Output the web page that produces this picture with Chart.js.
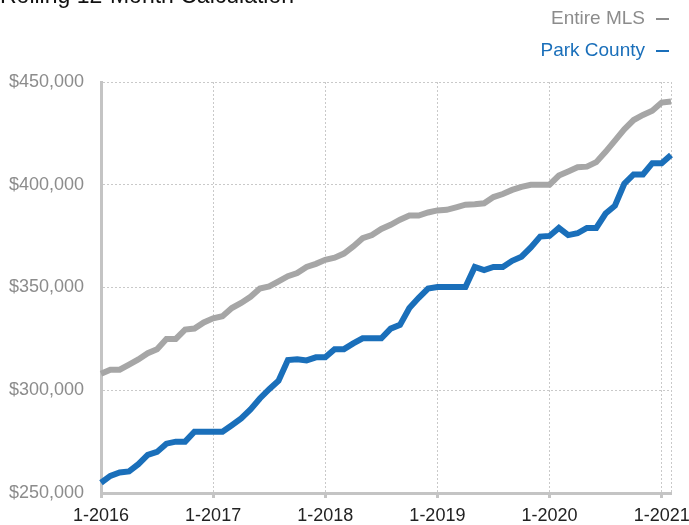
<!DOCTYPE html>
<html>
<head>
<meta charset="utf-8">
<script src="https://cdn.jsdelivr.net/npm/chart.js@4/dist/chart.umd.min.js"></script>
<style>
  body { margin: 0; background: #fff; font-family: "Liberation Sans", Arial, sans-serif; }
  #wrap { position: relative; width: 689px; height: 525px; overflow: hidden; }
  #titulo { position: absolute; left: 0; top: -18px; font-size: 23px; color: #111; white-space: nowrap; }
  .leg { position: absolute; right: 20px; font-size: 19px; white-space: nowrap; }
  .leg span { display: inline-block; width: 13px; height: 2px; margin-left: 11px; vertical-align: middle; }
</style>
</head>
<body>
<div id="wrap">
  <div id="titulo">Rolling 12-Month Calculation</div>
  <div class="leg" style="top:7px;color:#8c8c8c">Entire MLS<span style="background:#8c8c8c"></span></div>
  <div class="leg" style="top:39px;color:#1a6fba">Park County<span style="background:#1a6fba"></span></div>
  <canvas id="grafico"></canvas>
</div>
<script>
  // meses de 1-2016 ate 2-2021
  var anos = [2016, 2017, 2018, 2019, 2020, 2021];
  var meses = [];
  anos.forEach(function(a) {
      for (var m = 1; m <= 12; m++) {
          if (a == 2021 && m > 2) break;
          meses.push(m + '-' + a);
      }
  });

  var entireMLS = [
      308000, 310000, 310000, 312500, 315000, 318000, 320000, 325000, 325000, 329500, 330000, 333000,
      335000, 336000, 340000, 342500, 345500, 349500, 350500, 353000, 355500, 357000, 360000, 361500,
      363500, 364500, 366500, 370000, 374000, 375500, 378500, 380500, 383000, 385000, 385000, 386500,
      387500, 387800, 389000, 390300, 390500, 391000, 394000, 395500, 397500, 399000, 400000, 400000,
      400000, 404500, 406500, 408500, 408800, 411000, 416000, 421500, 427000, 431500, 434000, 436000,
      440000, 440500
  ];
  var parkCounty = [
      255000, 258300, 260000, 260500, 264000, 268500, 270000, 274000, 275000, 275000, 279800, 279800,
      279800, 279800, 283000, 286300, 290700, 296000, 300500, 304600, 314700, 315100, 314500, 316000,
      316000, 320000, 320000, 322800, 325300, 325300, 325300, 330000, 331800, 340000, 345000, 349500,
      350200, 350200, 350200, 350200, 360000, 358500, 360000, 360000, 363000, 365000, 369500, 374800,
      375100, 379000, 375500, 376400, 379000, 379000, 386000, 389800, 400500, 405000, 405000, 410500,
      410500, 414500
  ];
  var yTicks = [250000, 300000, 350000, 400000, 450000];

  var corGrade = '#c9c9c9';
  var corEixo = '#c4c4c4';

  function ehAno(i) { return i % 12 == 0; }

  const ctx = document.getElementById('grafico').getContext('2d');
  new Chart(ctx, {
      type: 'line',
      data: {
          labels: meses,
          datasets: [{
              label: 'Entire MLS',
              data: entireMLS,
              borderColor: '#a6a6a6',
              borderWidth: 6,
              pointRadius: 0,
              tension: 0
          }, {
              label: 'Park County',
              data: parkCounty,
              borderColor: '#1a6fba',
              borderWidth: 6,
              pointRadius: 0,
              tension: 0
          }]
      },
      options: {
          responsive: true,
          maintainAspectRatio: false,
          animation: false,
          layout: { padding: { top: 82, right: 18, bottom: 0, left: 0 } },
          plugins: { legend: { display: false }, title: { display: false }, tooltip: { enabled: false } },
          scales: {
              x: {
                  afterFit: function(s) { s.height = 32; },
                  grid: {
                      color: function(c) { return (ehAno(c.index) || c.index == meses.length - 1) ? corGrade : 'rgba(0,0,0,0)'; },
                      lineWidth: 1,
                      tickLength: 5,
                      tickWidth: 3,
                      tickBorderDash: [],
                      tickColor: function(c) { return ehAno(c.index) ? corEixo : 'rgba(0,0,0,0)'; }
                  },
                  border: { color: corEixo, width: 3, dash: [2, 2] },
                  ticks: {
                      autoSkip: false,
                      maxRotation: 0,
                      padding: 7,
                      color: '#222',
                      font: { family: '"Liberation Sans", Arial, sans-serif', size: 18 },
                      callback: function(v, i) { return ehAno(i) ? meses[i] : ''; }
                  }
              },
              y: {
                  min: yTicks[0],
                  max: yTicks[yTicks.length - 1],
                  afterFit: function(s) { s.width = 101; },
                  afterBuildTicks: function(s) { s.ticks = yTicks.map(function(v) { return { value: v }; }); },
                  grid: { color: corGrade, lineWidth: 1, drawTicks: false },
                  border: { color: corEixo, width: 3, dash: [2, 2] },
                  ticks: {
                      padding: 17,
                      color: '#8c8c8c',
                      font: { family: '"Liberation Sans", Arial, sans-serif', size: 18 },
                      callback: function(v) { return '$' + v.toLocaleString('en-US'); }
                  }
              }
          }
      }
  });
</script>
</body>
</html>
